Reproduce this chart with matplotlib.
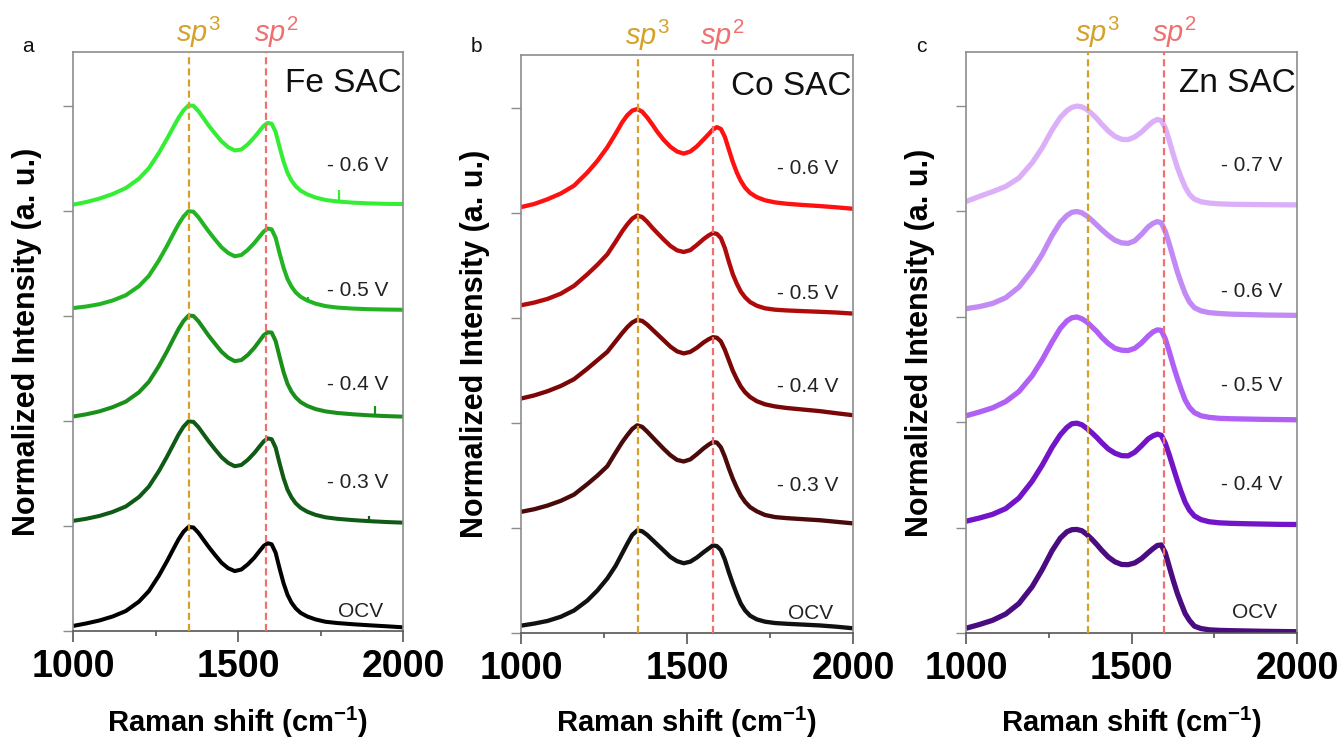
import matplotlib
matplotlib.use("Agg")
import matplotlib.pyplot as plt
from matplotlib.ticker import FixedLocator

plt.rcParams['font.family'] = ['Liberation Sans', 'DejaVu Sans']
plt.rcParams['mathtext.fontset'] = 'custom'
plt.rcParams['mathtext.rm'] = 'Liberation Sans'
plt.rcParams['mathtext.it'] = 'Liberation Sans:italic'
plt.rcParams['mathtext.bf'] = 'Liberation Sans:bold'

# ---------------------------------------------------------------- data
raman_shift = [1000, 1040, 1080, 1120, 1160, 1200, 1230, 1260, 1285, 1305,
               1320, 1335, 1350, 1365, 1380, 1395, 1410, 1430, 1450, 1470,
               1490, 1510, 1530, 1550, 1565, 1578, 1590, 1602, 1614, 1626,
               1638, 1650, 1662, 1675, 1690, 1710, 1735, 1765, 1800, 1850,
               1900, 1950, 2000]

# Fe SAC, normalised intensity (bottom to top)
fe_labels = ['OCV', '- 0.3 V', '- 0.4 V', '- 0.5 V', '- 0.6 V']
fe_ocv = [0.048, 0.072, 0.100, 0.138, 0.190, 0.280, 0.380, 0.525, 0.665, 0.785,
          0.873, 0.945, 0.990, 0.985, 0.935, 0.870, 0.805, 0.725, 0.650, 0.598,
          0.570, 0.585, 0.635, 0.700, 0.760, 0.810, 0.835, 0.825, 0.745, 0.595,
          0.455, 0.345, 0.270, 0.215, 0.172, 0.138, 0.110, 0.088, 0.076, 0.064,
          0.054, 0.045, 0.035]
fe_m03 = [0.048, 0.068, 0.095, 0.133, 0.185, 0.275, 0.375, 0.520, 0.660, 0.780,
          0.870, 0.945, 0.995, 0.990, 0.940, 0.875, 0.810, 0.730, 0.655, 0.600,
          0.568, 0.580, 0.630, 0.696, 0.755, 0.805, 0.833, 0.825, 0.745, 0.595,
          0.455, 0.345, 0.272, 0.215, 0.172, 0.135, 0.105, 0.082, 0.068, 0.055,
          0.045, 0.037, 0.031]
fe_m04 = [0.041, 0.062, 0.090, 0.130, 0.183, 0.272, 0.372, 0.520, 0.662, 0.785,
          0.875, 0.950, 1.002, 0.998, 0.948, 0.882, 0.815, 0.735, 0.658, 0.602,
          0.568, 0.578, 0.628, 0.697, 0.760, 0.815, 0.843, 0.840, 0.760, 0.610,
          0.465, 0.352, 0.278, 0.222, 0.178, 0.142, 0.112, 0.090, 0.075, 0.062,
          0.052, 0.045, 0.040]
fe_m05 = [0.073, 0.088, 0.110, 0.145, 0.195, 0.282, 0.380, 0.525, 0.665, 0.785,
          0.872, 0.945, 0.995, 0.990, 0.938, 0.872, 0.807, 0.727, 0.652, 0.598,
          0.566, 0.578, 0.628, 0.694, 0.752, 0.802, 0.830, 0.822, 0.742, 0.595,
          0.458, 0.350, 0.278, 0.222, 0.180, 0.145, 0.115, 0.092, 0.078, 0.068,
          0.062, 0.059, 0.057]
fe_m06 = [0.057, 0.082, 0.115, 0.158, 0.215, 0.305, 0.405, 0.548, 0.685, 0.800,
          0.885, 0.955, 1.002, 0.998, 0.948, 0.882, 0.815, 0.735, 0.660, 0.605,
          0.573, 0.582, 0.632, 0.700, 0.758, 0.808, 0.835, 0.828, 0.750, 0.605,
          0.468, 0.360, 0.288, 0.232, 0.190, 0.155, 0.125, 0.102, 0.088, 0.076,
          0.069, 0.065, 0.063]
# cosmic-ray spikes: (spectrum index, shift, foot, tip)
fe_spikes = [(1, 1896, 0.045, 0.090), (2, 1916, 0.050, 0.140),
             (3, 1711, 0.140, 0.175), (4, 1805, 0.088, 0.200)]

# Co SAC
co_labels = ['OCV', '- 0.3 V', '- 0.4 V', '- 0.5 V', '- 0.6 V']
co_ocv = [0.070, 0.090, 0.115, 0.155, 0.215, 0.310, 0.405, 0.520, 0.640, 0.760,
          0.850, 0.935, 0.978, 0.970, 0.935, 0.890, 0.845, 0.785, 0.725, 0.685,
          0.665, 0.680, 0.720, 0.770, 0.805, 0.835, 0.828, 0.790, 0.700, 0.580,
          0.470, 0.370, 0.280, 0.215, 0.165, 0.130, 0.108, 0.095, 0.088, 0.080,
          0.072, 0.060, 0.045]
co_m03 = [0.155, 0.180, 0.215, 0.260, 0.320, 0.420, 0.500, 0.590, 0.720, 0.820,
          0.885, 0.945, 0.980, 0.965, 0.920, 0.870, 0.820, 0.755, 0.695, 0.650,
          0.635, 0.655, 0.705, 0.760, 0.795, 0.820, 0.815, 0.770, 0.680, 0.570,
          0.470, 0.385, 0.310, 0.250, 0.200, 0.160, 0.125, 0.105, 0.095, 0.085,
          0.075, 0.060, 0.045]
co_m04 = [0.235, 0.265, 0.305, 0.355, 0.420, 0.520, 0.600, 0.680, 0.780, 0.860,
          0.915, 0.960, 0.985, 0.975, 0.940, 0.895, 0.850, 0.790, 0.730, 0.685,
          0.665, 0.680, 0.720, 0.770, 0.800, 0.820, 0.815, 0.780, 0.700, 0.600,
          0.500, 0.420, 0.350, 0.295, 0.250, 0.210, 0.180, 0.160, 0.145, 0.130,
          0.115, 0.095, 0.076]
co_m05 = [0.124, 0.150, 0.185, 0.235, 0.310, 0.420, 0.510, 0.610, 0.730, 0.830,
          0.895, 0.950, 0.980, 0.965, 0.920, 0.865, 0.815, 0.750, 0.690, 0.648,
          0.632, 0.650, 0.700, 0.755, 0.790, 0.812, 0.805, 0.765, 0.670, 0.540,
          0.420, 0.330, 0.255, 0.200, 0.155, 0.120, 0.095, 0.082, 0.075, 0.068,
          0.062, 0.055, 0.045]
co_m06 = [0.060, 0.090, 0.135, 0.190, 0.265, 0.390, 0.500, 0.630, 0.760, 0.870,
          0.935, 0.980, 0.995, 0.970, 0.915, 0.850, 0.780, 0.700, 0.635, 0.590,
          0.570, 0.590, 0.640, 0.705, 0.755, 0.800, 0.822, 0.805, 0.730, 0.610,
          0.490, 0.390, 0.310, 0.245, 0.195, 0.155, 0.125, 0.105, 0.092, 0.080,
          0.070, 0.058, 0.044]

# Zn SAC
zn_labels = ['OCV', '- 0.4 V', '- 0.5 V', '- 0.6 V', '- 0.7 V']
zn_ocv = [0.045, 0.080, 0.120, 0.180, 0.280, 0.440, 0.600, 0.780, 0.900, 0.960,
          0.980, 0.982, 0.970, 0.935, 0.890, 0.840, 0.785, 0.720, 0.675, 0.650,
          0.648, 0.665, 0.705, 0.760, 0.800, 0.830, 0.835, 0.760, 0.630, 0.500,
          0.380, 0.280, 0.185, 0.120, 0.065, 0.042, 0.030, 0.025, 0.022, 0.019,
          0.016, 0.014, 0.012]
zn_m04 = [0.060, 0.090, 0.125, 0.180, 0.280, 0.440, 0.590, 0.760, 0.880, 0.950,
          0.985, 0.990, 0.975, 0.940, 0.900, 0.855, 0.805, 0.745, 0.705, 0.682,
          0.680, 0.715, 0.775, 0.840, 0.870, 0.886, 0.875, 0.800, 0.690, 0.570,
          0.450, 0.340, 0.240, 0.165, 0.110, 0.075, 0.055, 0.045, 0.040, 0.036,
          0.033, 0.030, 0.029]
zn_m05 = [0.060, 0.095, 0.135, 0.195, 0.290, 0.440, 0.590, 0.760, 0.890, 0.960,
          0.990, 0.997, 0.980, 0.950, 0.905, 0.860, 0.805, 0.745, 0.700, 0.682,
          0.679, 0.700, 0.750, 0.815, 0.855, 0.875, 0.870, 0.790, 0.670, 0.540,
          0.420, 0.310, 0.210, 0.140, 0.090, 0.060, 0.045, 0.036, 0.032, 0.029,
          0.026, 0.024, 0.022]
zn_m06 = [0.076, 0.095, 0.125, 0.180, 0.280, 0.440, 0.590, 0.770, 0.895, 0.960,
          0.990, 0.997, 0.985, 0.955, 0.915, 0.870, 0.825, 0.770, 0.725, 0.700,
          0.695, 0.720, 0.780, 0.850, 0.885, 0.902, 0.890, 0.810, 0.690, 0.560,
          0.430, 0.320, 0.220, 0.140, 0.085, 0.055, 0.038, 0.030, 0.024, 0.020,
          0.016, 0.014, 0.012]
zn_m07 = [0.092, 0.140, 0.185, 0.235, 0.315, 0.460, 0.600, 0.770, 0.890, 0.955,
          0.985, 0.997, 0.990, 0.965, 0.925, 0.880, 0.825, 0.760, 0.710, 0.682,
          0.679, 0.705, 0.750, 0.810, 0.850, 0.870, 0.860, 0.790, 0.670, 0.540,
          0.420, 0.320, 0.230, 0.160, 0.115, 0.090, 0.077, 0.070, 0.066, 0.064,
          0.062, 0.061, 0.060]

# band positions (cm-1) marked per panel: (sp3, sp2)
fe_bands = (1350, 1585)
co_bands = (1352, 1578)
zn_bands = (1368, 1598)

# ---------------------------------------------------------------- style
fe_colors = ['#000000', '#0f5a14', '#1a8f1a', '#22b422', '#33ee33']
co_colors = ['#111111', '#4a0a0a', '#7a0606', '#b00a0a', '#ff1111']
zn_colors = ['#4a0c80', '#7214c8', '#b060f5', '#c28af5', '#dcb0f8']

panels = [
    dict(letter='a', title='Fe SAC', labels=fe_labels, colors=fe_colors,
         spectra=[fe_ocv, fe_m03, fe_m04, fe_m05, fe_m06], bands=fe_bands,
         spikes=fe_spikes, lw=2.9, rect=[73, 52, 403, 631]),
    dict(letter='b', title='Co SAC', labels=co_labels, colors=co_colors,
         spectra=[co_ocv, co_m03, co_m04, co_m05, co_m06], bands=co_bands,
         spikes=[], lw=3.1, rect=[521, 55, 853, 633]),
    dict(letter='c', title='Zn SAC', labels=zn_labels, colors=zn_colors,
         spectra=[zn_ocv, zn_m04, zn_m05, zn_m06, zn_m07], bands=zn_bands,
         spikes=[], lw=3.8, rect=[966, 52, 1297, 633]),
]

W, H = 1344, 744
STEP = 1.0                                 # vertical stacking step
label_levels = [0.19, 1.41, 2.35, 3.24, 4.43]
SP3_COLOR, SP2_COLOR = '#d4a22a', '#f07070'
SPINE = '#8c8c8c'

fig = plt.figure(figsize=(W / 100, H / 100), dpi=100)

for p in panels:
    x0, y0, x1, y1 = p['rect']
    ax = fig.add_axes([x0 / W, 1 - y1 / H, (x1 - x0) / W, (y1 - y0) / H])

    for i, (spec, col) in enumerate(zip(p['spectra'], p['colors'])):
        ax.plot(raman_shift, [v + i * STEP for v in spec], color=col,
                lw=p['lw'], solid_joinstyle='round', solid_capstyle='butt',
                zorder=2)
    for i, sx, foot, tip in p['spikes']:
        ax.vlines(sx, foot + i * STEP, tip + i * STEP, color=p['colors'][i],
                  lw=1.6, zorder=2)

    for i, lab in enumerate(p['labels']):
        xr = 0.94 if lab == 'OCV' else 0.955
        ax.text(xr, label_levels[i], lab, transform=ax.get_yaxis_transform(),
                ha='right', va='center', fontsize=15, color='#222222')

    sp3, sp2 = p['bands']
    for xb, col, txt in [(sp3, SP3_COLOR, r'$sp^{3}$'), (sp2, SP2_COLOR, r'$sp^{2}$')]:
        ax.axvline(xb, color=col, lw=1.6, ls=(0, (3.2, 1.8)), zorder=3)
        ax.annotate(txt, xy=(xb, 1.0), xycoords=('data', 'axes fraction'),
                    xytext=(7, 7), textcoords='offset points',
                    ha='center', va='baseline', fontsize=21, color=col)

    ax.text(0.995, 0.945, p['title'], transform=ax.transAxes, ha='right',
            va='center', fontsize=24, color='#111111')

    ax.set_xlim(1000, 2000)
    ax.set_ylim(0, 5.51)
    ax.xaxis.set_major_locator(FixedLocator([1000, 1500, 2000]))
    ax.xaxis.set_minor_locator(FixedLocator([1250, 1750]))
    ax.yaxis.set_major_locator(FixedLocator([0, 1, 2, 3, 4, 5]))
    ax.tick_params(axis='x', which='major', direction='out', length=8,
                   width=1.2, color='#555555', pad=5, labelsize=27)
    ax.tick_params(axis='x', which='minor', direction='out', length=3.5,
                   width=1.2, color='#555555')
    ax.tick_params(axis='y', direction='out', length=7, width=1.0,
                   color=SPINE, labelleft=False)
    for lbl in ax.get_xticklabels():
        lbl.set_fontweight('bold')
    for side, sp in ax.spines.items():
        sp.set_color('#555555' if side == 'bottom' else SPINE)
        sp.set_linewidth(1.2)

    ax.set_xlabel(r'Raman shift (cm$^{\mathbf{-1}}$)', fontsize=21,
                  fontweight='bold', va='baseline')
    ax.xaxis.set_label_coords(0.5, -(732 - y1) / (y1 - y0))
    ax.set_ylabel('Normalized Intensity (a. u.)', fontsize=22,
                  fontweight='bold')
    ax.yaxis.set_label_coords(-31 / (x1 - x0), 0.5)

    fig.text((x0 - 45) / W, 1 - 47 / H, p['letter'], ha='center',
             va='center', fontsize=15, color='#111111')

fig.savefig('out.png', dpi=100, facecolor='white')
